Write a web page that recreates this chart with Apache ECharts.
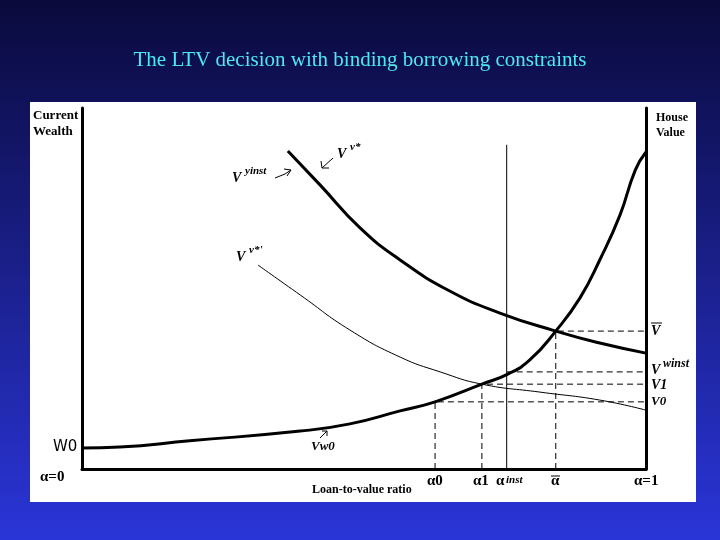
<!DOCTYPE html>
<html>
<head>
<meta charset="utf-8">
<script src="https://cdn.jsdelivr.net/npm/echarts@6/dist/echarts.min.js"></script>
<style>html,body{margin:0;padding:0;}#main{width:720px;height:540px;}</style>
</head>
<body>
<div id="main"></div>
<script>
// x: loan-to-value ratio (0..1), y: value (0..100)
const vwX = [0, 0.067, 0.191, 0.387, 0.475, 0.564, 0.626, 0.709, 0.755, 0.794, 0.840, 0.883, 0.918, 0.954, 0.981, 1];
const vwY = [5.8, 6.1, 7.8, 10.5, 12.5, 16.1, 18.6, 23.5, 26.3, 30.2, 38.2, 47.4, 57.9, 70.4, 82.8, 87.8];
const vvX = [0.365, 0.422, 0.493, 0.564, 0.652, 0.741, 0.840, 0.918, 1];
const vvY = [88.1, 78.7, 66.8, 57.9, 49.3, 43.2, 38.2, 34.9, 32.1];
const vv2X = [0.312, 0.387, 0.475, 0.564, 0.635, 0.709, 0.812, 0.918, 1];
const vv2Y = [56.5, 48.2, 38.5, 31.0, 26.9, 23.5, 21.3, 19.1, 16.3];
// reference levels: [alpha, value]
const refAlpha = [0.626, 0.709, 0.840];
const refValue = [18.6, 23.5, 38.2];
const alphaInst = 0.753;
const vwInst = 26.9;
const instTop = 89.8;

const zip = (xs, ys) => xs.map((x, i) => [x, ys[i]]);

const chart = echarts.init(document.getElementById('main'));
const dash = { color: '#000', width: 1, type: [6, 4] };
const series = [
  { type: 'line', data: zip(vwX, vwY), smooth: true, symbol: 'none', lineStyle: { color: '#000', width: 3 } },
  { type: 'line', data: zip(vvX, vvY), smooth: true, symbol: 'none', lineStyle: { color: '#000', width: 3 } },
  { type: 'line', data: zip(vv2X, vv2Y), smooth: true, symbol: 'none', lineStyle: { color: '#000', width: 1 } },
  { type: 'line', data: [[alphaInst, 0], [alphaInst, instTop]], symbol: 'none', lineStyle: { color: '#000', width: 1 } },
  { type: 'line', data: [[alphaInst, vwInst], [1, vwInst]], symbol: 'none', lineStyle: dash }
];
refAlpha.forEach((a, i) => {
  series.push({ type: 'line', data: [[a, 0], [a, refValue[i]], [1, refValue[i]]], symbol: 'none', lineStyle: dash });
});

const serif = '"Liberation Serif", "DejaVu Serif", serif';
function txt(x, y, text, size, extra) {
  return { type: 'text', left: x, top: y, style: Object.assign({ text: text, fill: '#000', font: 'bold ' + size + 'px ' + serif }, extra || {}) };
}
function it(x, y, text, size) {
  return txt(x, y, text, size, { font: 'italic bold ' + size + 'px ' + serif });
}

chart.setOption({
  animation: false,
  backgroundColor: {
    type: 'linear', x: 0, y: 0, x2: 0, y2: 1,
    colorStops: [{ offset: 0, color: '#0a0a3c' }, { offset: 1, color: '#2a35d8' }]
  },
  grid: { left: 82, right: 74, top: 108, bottom: 71 },
  xAxis: { type: 'value', min: 0, max: 1, axisLabel: { show: false }, axisTick: { show: false }, splitLine: { show: false },
    axisLine: { lineStyle: { color: '#000', width: 3 } } },
  yAxis: [
    { type: 'value', min: 0, max: 100, axisLabel: { show: false }, axisTick: { show: false }, splitLine: { show: false },
      axisLine: { show: true, lineStyle: { color: '#000', width: 3 } } },
    { type: 'value', min: 0, max: 100, position: 'right', axisLabel: { show: false }, axisTick: { show: false }, splitLine: { show: false },
      axisLine: { show: true, lineStyle: { color: '#000', width: 3 } } }
  ],
  graphic: [
    { type: 'rect', z: -10, shape: { x: 30, y: 102, width: 666, height: 400 }, style: { fill: '#fff' } },
    { type: 'text', left: 'center', top: 50, style: { text: 'The LTV decision with binding borrowing constraints', fill: '#4ee8f0', font: '21px ' + serif } },
    txt(33, 108, 'Current\nWealth', 13, { lineHeight: 16 }),
    txt(656, 110, 'House\nValue', 12, { lineHeight: 15 }),
    { type: 'text', left: 53, top: 440, style: { text: 'W0', fill: '#000', font: '15px "DejaVu Sans", sans-serif' } },
    txt(40, 470, '\u03b1=0', 15),
    txt(312, 484, 'Loan-to-value ratio', 12),
    txt(427, 474, '\u03b10', 15),
    txt(473, 474, '\u03b11', 15),
    txt(496, 474, '\u03b1', 15),
    it(506, 475, 'inst', 11),
    txt(551, 474, '\u03b1', 15),
    { type: 'line', shape: { x1: 551, y1: 476, x2: 560, y2: 476 }, style: { stroke: '#000', lineWidth: 1 } },
    txt(634, 474, '\u03b1=1', 15),
    it(651, 324, 'V', 14),
    { type: 'line', shape: { x1: 651, y1: 323, x2: 662, y2: 323 }, style: { stroke: '#000', lineWidth: 1 } },
    it(651, 363, 'V', 14), it(663, 358, 'winst', 12),
    it(651, 378, 'V1', 14),
    it(651, 395, 'V0', 13),
    it(232, 171, 'V', 14), it(245, 166, 'yinst', 11),
    { type: 'polyline', shape: { points: [[275, 178], [285, 174], [291, 170]] }, style: { stroke: '#000', fill: null, lineWidth: 1 } },
    { type: 'polyline', shape: { points: [[284, 169], [291, 170], [287, 176]] }, style: { stroke: '#000', fill: null, lineWidth: 1 } },
    it(337, 147, 'V', 14), it(350, 142, 'v*', 11),
    { type: 'line', shape: { x1: 333, y1: 158, x2: 322, y2: 168 }, style: { stroke: '#000', lineWidth: 1 } },
    { type: 'polyline', shape: { points: [[321, 161], [322, 168], [329, 168]] }, style: { stroke: '#000', fill: null, lineWidth: 1 } },
    it(236, 250, 'V', 14), it(249, 245, 'v*\'', 11),
    it(311, 440, 'Vw0', 13),
    { type: 'line', shape: { x1: 320, y1: 438, x2: 327, y2: 431 }, style: { stroke: '#000', lineWidth: 1 } },
    { type: 'polyline', shape: { points: [[322, 431], [327, 431], [327, 436]] }, style: { stroke: '#000', fill: null, lineWidth: 1 } }
  ],
  series: series
});
</script>
</body>
</html>
